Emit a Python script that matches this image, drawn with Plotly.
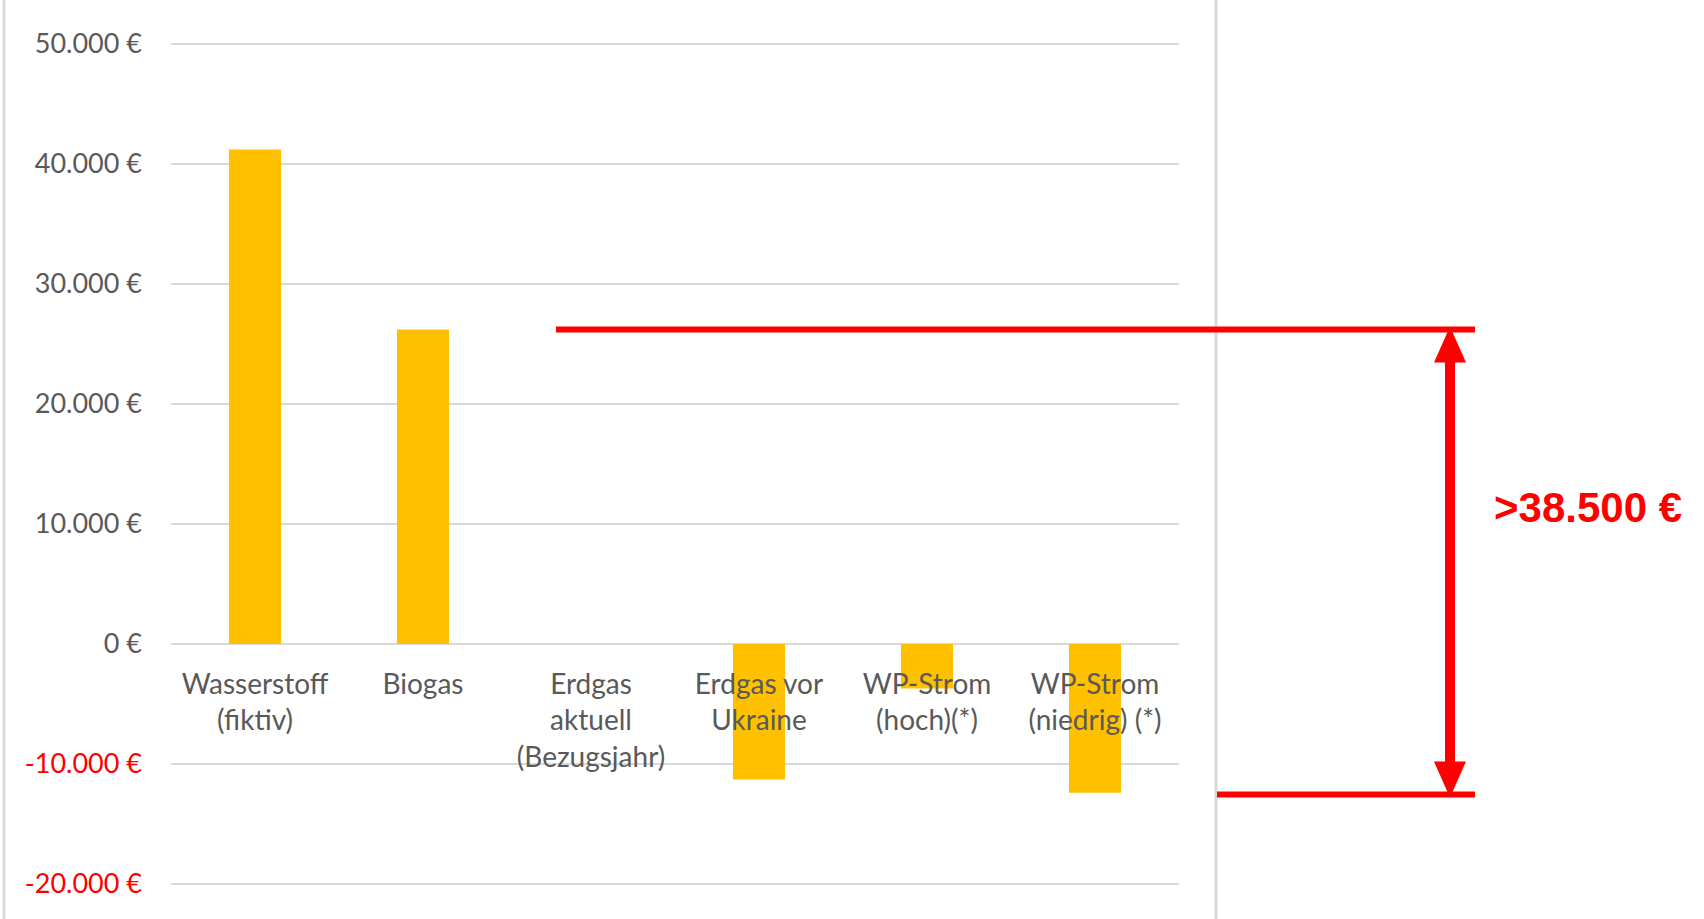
import plotly.graph_objects as go

categories = ["Wasserstoff<br>(fiktiv)", "Biogas", "Erdgas<br>aktuell<br>(Bezugsjahr)",
              "Erdgas vor<br>Ukraine", "WP-Strom<br>(hoch)(*)", "WP-Strom<br>(niedrig) (*)"]
values = [41200, 26200, 0, -11300, -3700, -12400]

tick_vals = [50000, 40000, 30000, 20000, 10000, 0, -10000, -20000]
tick_text = ["50.000 €", "40.000 €", "30.000 €", "20.000 €", "10.000 €", "0 €",
             '<span style="color:#FF0000">-10.000 €</span>',
             '<span style="color:#FF0000">-20.000 €</span>']

span_top = values[1]        # upper reference line (Biogas)
span_bottom = -12550        # lower reference line
span_label = ">38.500 €"

Y_MIN, Y_MAX = -20250, 50250
FONT = "Lato, 'Open Sans', sans-serif"
GRAY = "#595959"
GRID = "#D9D9D9"
RED = "#FF0000"

M_L, M_R, M_T, M_B = 171, 525, 41, 32
W, H = 1704, 919
PW, PH = W - M_L - M_R, H - M_T - M_B

fig = go.Figure()
fig.add_trace(go.Bar(x=list(range(len(categories))), y=values,
                     marker=dict(color="#FFC000", line=dict(width=0)),
                     hoverinfo="skip"))

zero_pos = (0 - Y_MIN) / (Y_MAX - Y_MIN)

fig.update_layout(
    width=W, height=H,
    margin=dict(l=M_L, r=M_R, t=M_T, b=M_B),
    paper_bgcolor="white", plot_bgcolor="white",
    bargap=0.69, showlegend=False,
    font=dict(family=FONT, size=27, color=GRAY),
    xaxis=dict(tickmode="array", tickvals=list(range(len(categories))), ticktext=categories,
               range=[-0.5, len(categories) - 0.5], showgrid=False, zeroline=False,
               showline=False, ticks="", anchor="free", position=zero_pos,
               tickfont=dict(family=FONT, size=28, color=GRAY), ticklabelstandoff=21,
               fixedrange=True),
    yaxis=dict(range=[Y_MIN, Y_MAX], tickmode="array", tickvals=tick_vals, ticktext=tick_text,
               showgrid=True, gridcolor=GRID, gridwidth=2, zeroline=True, zerolinecolor=GRID,
               zerolinewidth=2, showline=False, ticks="",
               tickfont=dict(family=FONT, size=27, color=GRAY), ticklabelstandoff=28,
               fixedrange=True),
)

def px_to_paper_x(px):
    return (px - M_L) / PW

def px_to_paper_y(py):
    return (H - M_B - py) / PH

shapes = []
# chart frame borders
for bx in (4, 1216):
    shapes.append(dict(type="line", xref="paper", yref="paper",
                       x0=px_to_paper_x(bx), x1=px_to_paper_x(bx),
                       y0=px_to_paper_y(-5), y1=px_to_paper_y(925),
                       line=dict(color=GRID, width=3), layer="below"))
# red reference lines
shapes.append(dict(type="line", xref="paper", yref="y",
                   x0=px_to_paper_x(556), x1=px_to_paper_x(1475), y0=span_top, y1=span_top,
                   line=dict(color=RED, width=6)))
shapes.append(dict(type="line", xref="paper", yref="y",
                   x0=px_to_paper_x(1217), x1=px_to_paper_x(1475), y0=span_bottom, y1=span_bottom,
                   line=dict(color=RED, width=6)))
# arrow: shaft and heads in pixel size mode
ax = px_to_paper_x(1450)
shapes.append(dict(type="path", xref="paper", yref="y", xsizemode="pixel", ysizemode="pixel",
                   xanchor=ax, yanchor=span_top,
                   path="M -16,-33 L 0,3 L 16,-33 Z",
                   fillcolor=RED, line=dict(width=0)))
shapes.append(dict(type="path", xref="paper", yref="y", xsizemode="pixel", ysizemode="pixel",
                   xanchor=ax, yanchor=span_bottom,
                   path="M -16,33 L 0,-3 L 16,33 Z",
                   fillcolor=RED, line=dict(width=0)))
shapes.append(dict(type="line", xref="paper", yref="y",
                   x0=ax, x1=ax, y0=span_top - 2000, y1=span_bottom + 2000,
                   line=dict(color=RED, width=10)))
fig.update_layout(shapes=shapes)

fig.add_annotation(text=f"<b>{span_label}</b>", xref="paper", yref="paper",
                   x=px_to_paper_x(1492), y=px_to_paper_y(507), xanchor="left", yanchor="middle",
                   showarrow=False,
                   font=dict(family="'Liberation Sans', Arial, sans-serif", size=42, color=RED))

fig.write_html("out.html")
